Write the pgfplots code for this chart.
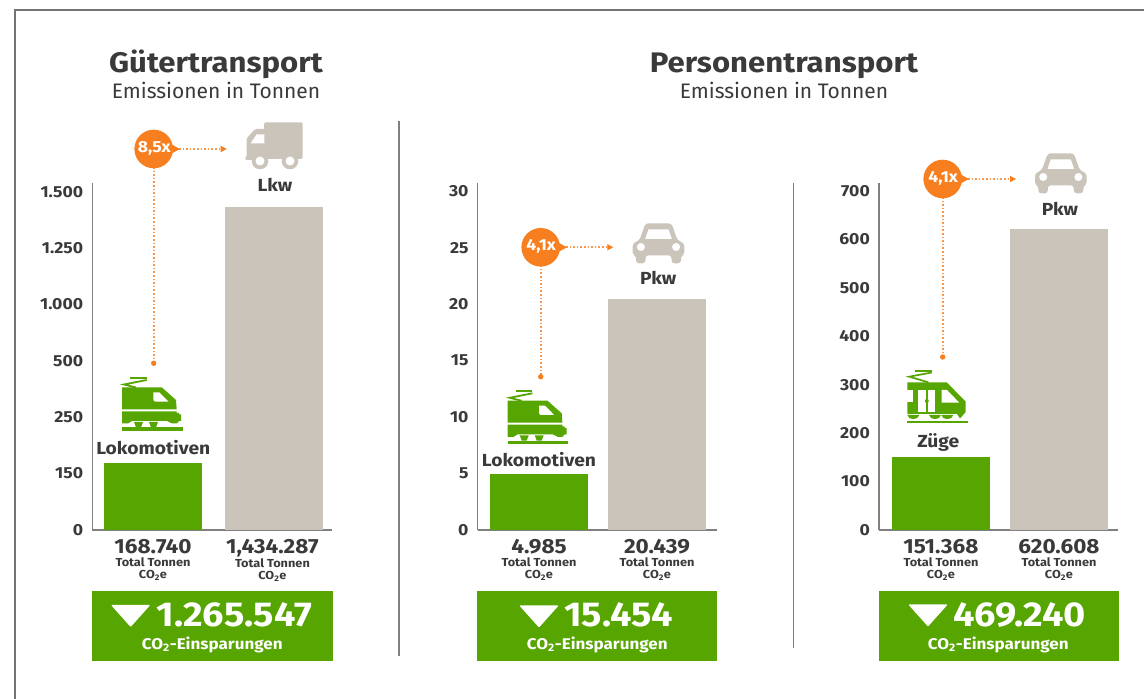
\documentclass[border=0pt]{standalone}
\usepackage{pgfplots}
\pgfplotsset{compat=1.18}
\usepackage{fontspec}
\setmainfont[BoldFeatures={FakeStretch=1.1}]{Fira Sans}
\definecolor{G}{HTML}{57A500}
\definecolor{S}{HTML}{CBC4BA}
\definecolor{O}{HTML}{F77F1F}
\definecolor{T}{HTML}{3A3A3A}
\definecolor{L}{HTML}{808080}
\newcommand{\tl}[1]{\fontsize{20.5}{20}\selectfont #1\\[0.5pt]\fontsize{11.6}{13}\selectfont Total Tonnen\\\fontsize{11.6}{13}\selectfont CO\textsubscript{2}e}
\newcommand{\fs}[1]{\fontsize{#1}{#1}\selectfont}
\pgfplotsset{bars/.style={
  scale only axis, anchor=south west, height=346.7pt, width=240pt,
  axis x line=bottom, axis y line=left,
  axis line style={draw=L,line width=1.4pt,-},
  tick style={draw=none}, ymin=0,
  bar width=98pt, ybar, 
  yticklabel style={font=\bfseries\fs{16},text=T,xshift=-3.5pt},
  xticklabel style={font=\bfseries,text=T,align=center,anchor=north,yshift=-1.8pt},
  axis on top=false, clip=false
}}
% icons, drawn at the position of the first chart and shifted
\newcommand{\loco}[2]{\begin{scope}[shift={(#1,#2)}]
 \fill[G] (122,387.3)--(161.7,387.3)--(176,400)--(176.7,409.3)--(122,409.3)--cycle;
 \fill[white] (153.3,392.3)--(159.3,392.3)--(168.5,401.7)--(155,401.7)--(153.3,400)--cycle;
 \fill[G] (122,411.3)--(176.7,411.3)--(176.7,413)--(179,413)--(179,414.5)--(181,414.5)--(181,421)--(179,421)--(176.7,423.5)--(172,423.5)--(167,421)--(132,421)--(128,423.5)--(122,423.5)--cycle;
 \fill[G] (134,422)--(143,422)--(141,427.3)--(136,427.3)--cycle;
 \fill[G] (149,422)--(158,422)--(156,427.3)--(151,427.3)--cycle;
 \fill[G] (122,427.5) rectangle (182.7,431);
 \draw[G,line width=2.2pt] (130,378)--(146.7,378);
 \draw[G,line width=1.8pt] (146.7,380)--(124,384.5)--(136,387.5);
\end{scope}}
\newcommand{\zug}{
 \fill[G] (907.3,382.3)--(946.7,382.3)--(965.7,401.7)--(965.7,412)--(960,418.5)--(957,414)--(907.3,414)--cycle;
 \fill[white] (907,390) rectangle (912.5,401.7);
 \fill[white] (918.3,390) rectangle (925.8,411.7);
 \fill[white] (928,390) rectangle (935,411.7);
 \fill[white] (941.7,390)--(947,390)--(959.3,402.7)--(941.7,402.7)--cycle;
 \fill[G] (926.8,401) circle[radius=2pt];
 \foreach \c in {913.3,935,947.3}{\fill[G] (\c-6,415)..controls(\c-5,420.5)and(\c+5,420.5)..(\c+6,415)--cycle;}
 \fill[G] (907,420.7) rectangle (967.7,423.3);
 \draw[G,line width=2pt] (915,371.5)--(931.7,371.5);
 \draw[G,line width=1.7pt] (931.7,372.5)--(909.3,376.7)--(928.3,382.3);
}
\newcommand{\car}[2]{\begin{scope}[shift={(#1,#2)}]
 \fill[S,rounded corners=3pt] (-13,0)--(13,0)--(19,17)--(25.8,20)--(25.8,32)--(22.5,32)--(22.5,40)--(13,40)--(13,32)--(-13,32)--(-13,40)--(-22.5,40)--(-22.5,32)--(-25.8,32)--(-25.8,20)--(-19,17)--cycle;
 \fill[white] (-10,6)--(10,6)--(13.3,15.7)--(-13.3,15.7)--cycle;
 \fill[white] (-17.6,23.7) circle[radius=4pt];
 \fill[white] (17.6,23.7) circle[radius=4pt];
\end{scope}}
\newcommand{\truck}{
 \fill[S,rounded corners=1.5pt] (264,122.3)--(302.7,122.3)--(302.7,159)--(264,159)--cycle;
 \fill[S,rounded corners=1.5pt] (265,129)--(255,129)--(246.7,138.3)--(246.7,157)--(245,158)--(245,160)--(265,160)--cycle;
 \fill[white] (264.3,134.3)--(256.7,134.3)--(250.7,143.3)--(264.3,143.3)--cycle;
 \foreach \c in {260,290}{\fill[S] (\c,161) circle[radius=8.3pt];\fill[white] (\c,161) circle[radius=4.5pt];}
}
% callout: circle centre x,y; tip of arrow; bottom end of vertical; label
\newcommand{\callout}[5]{
 \draw[O!80!white,line width=1.6pt,dash pattern=on 1.6pt off 2pt] (#1,#2)--(#3-5,#2);
 \fill[O] (#3-6,#2-3.2)--(#3,#2)--(#3-6,#2+3.2)--cycle;
 \draw[O!80!white,line width=1.6pt,dash pattern=on 1.6pt off 2pt] (#1,#2)--(#1,#4);
 \fill[O] (#1,#4) circle[radius=2.7pt];
 \fill[O] (#1+17,#2-5)--(#1+26.3,#2)--(#1+17,#2+5)--cycle;
 \fill[O] (#1,#2) circle[radius=19.3pt];
 \node[text=white,font=\bfseries\fs{16},inner sep=0pt] at (#1+0.5,#2-0.5) {#5};
}
\newcommand{\banner}[8]{% x0 x1, tri left, tri right, tri y, number, number centre, co2 centre
 \fill[G] (#1,591) rectangle (#2,660.7);
 \fill[white,rounded corners=1pt] (#3,#5)--(#4,#5)--({(#3+#4)/2},{#5+22})--cycle;
 \node[text=white,font=\bfseries\fs{34.5}] at (#7,615) {#6};
 \node[text=white,font=\bfseries\fs{15.5}] at (#8,644.5) {CO\textsubscript{2}-Einsparungen};
}
\begin{document}
\begin{tikzpicture}[x=1pt,y=1pt]
\path[use as bounding box,fill=white] (0,0) rectangle (1144,699);

% --- Guetertransport
\begin{axis}[bars, at={(92.3pt,169pt)},
  xmin=-0.5017, xmax=1.4818, ymax=1537.3,
  y coord trafo/.code={\pgfmathparse{#1<150?#1/150:(#1<250?1+(#1-150)/100:(#1<500?2+(#1-250)/250:(#1<1000?3+(#1-500)/500:4+(#1-1000)/250)))}},
  ytick={0,150,250,500,1000,1250,1500},
  yticklabels={0,150,250,500,{1.000},{1.250},{1.500}},
  xtick={0,0.987},
  xticklabels={{\tl{168.740}},{\tl{1,434.287}}}]
\addplot[fill=G,draw=none,bar shift=0pt] coordinates {(0,168.74)};
\addplot[fill=S,draw=none,bar shift=0pt] coordinates {(1,1434.287)};
\end{axis}

% --- Personentransport, Lokomotiven / Pkw
\begin{axis}[bars, at={(477.7pt,169pt)}, width=239pt,
  xmin=-0.5195, xmax=1.506, ymax=30.7,
  ytick={0,5,10,15,20,25,30}, yticklabels={0,5,10,15,20,25,30},
  xtick={0,1},
  xticklabels={{\tl{4.985}},{\tl{20.439}}}]
\addplot[fill=G,draw=none,bar shift=0pt] coordinates {(0,4.985)};
\addplot[fill=S,draw=none,bar shift=0pt] coordinates {(1,20.439)};
\end{axis}

% --- Personentransport, Zuege / Pkw
\begin{axis}[bars, at={(879pt,169pt)}, width=239.3pt,
  xmin=-0.5254, xmax=1.5025, ymax=715.6,
  ytick={0,100,200,300,400,500,600,700}, yticklabels={0,100,200,300,400,500,600,700},
  xtick={0,1},
  xticklabels={{\tl{151.368}},{\tl{620.608}}}]
\addplot[fill=G,draw=none,bar shift=0pt] coordinates {(0,151.368)};
\addplot[fill=S,draw=none,bar shift=0pt] coordinates {(1,620.608)};
\end{axis}

\begin{scope}[yshift=699pt,y=-1pt,x=1pt]
 % frame and dividers
 \draw[color=L!90!black,line width=1.4pt] (1144,10)--(15,10)--(15,699);
 \draw[L,line width=1.3pt] (399,121)--(399,656);
 \draw[L,line width=1.3pt] (793.3,183)--(793.3,648);
 % titles
 \node[text=T,font=\bfseries\fs{28.3}] at (216,64) {Gütertransport};
 \node[text=T,font=\fs{21}] at (216,90.5) {Emissionen in Tonnen};
 \node[text=T,font=\bfseries\fs{28.3}] at (784,66) {Personentransport};
 \node[text=T,font=\fs{21}] at (784,90.5) {Emissionen in Tonnen};
 % labels above bars
 \node[text=T,font=\bfseries\fs{17.5}] at (275,185) {Lkw};
 \node[text=T,font=\bfseries\fs{17.5}] at (153.3,448) {Lokomotiven};
 \node[text=T,font=\bfseries\fs{17.5}] at (539,460) {Lokomotiven};
 \node[text=T,font=\bfseries\fs{17.5}] at (658.3,277.5) {Pkw};
 \node[text=T,font=\bfseries\fs{17.5}] at (1060,209) {Pkw};
 \node[text=T,font=\bfseries\fs{17.5}] at (938.3,442) {Züge};
 % icons
 \truck
 \car{658.5}{223.3}
 \car{1060.8}{153.3}
 \loco{0}{0}
 \loco{385.7}{13.3}
 \zug
 % callouts
 \callout{153.7}{149}{226.7}{363.3}{8,5x}
 \callout{540.7}{247.3}{613.3}{376.7}{4,1x}
 \callout{942.7}{179}{1016}{357}{4,1x}
 % banners
 \banner{92}{333}{111}{150.3}{605}{1.265.547}{234.5}{212.3}
 \banner{477}{717}{519.3}{558.7}{605.5}{15.454}{618.7}{597.3}
 \banner{879}{1119}{908.3}{947.7}{604.5}{469.240}{1019.5}{998.3}
\end{scope}
\end{tikzpicture}
\end{document}
